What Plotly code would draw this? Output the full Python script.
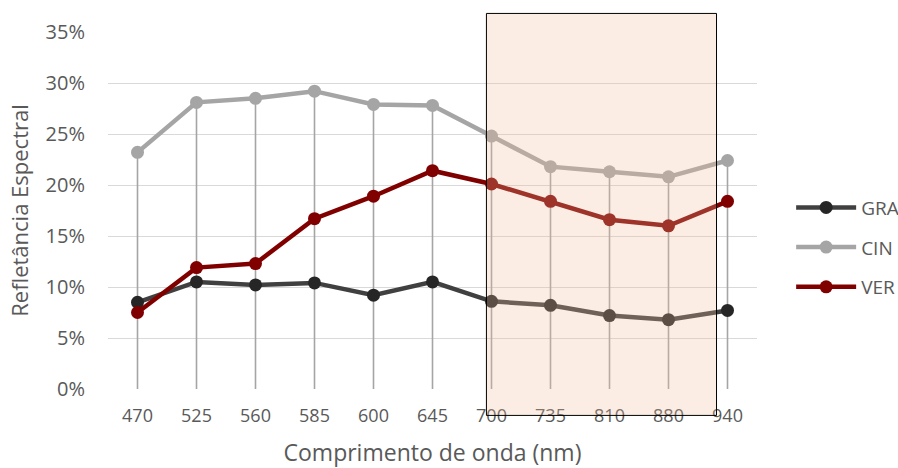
import plotly.graph_objects as go

categories = ["470", "525", "560", "585", "600", "645", "700", "735", "810", "880", "940"]
gra = [8.5, 10.5, 10.2, 10.4, 9.2, 10.5, 8.6, 8.2, 7.2, 6.8, 7.7]
cin = [23.2, 28.1, 28.5, 29.2, 27.9, 27.8, 24.8, 21.8, 21.3, 20.8, 22.4]
ver = [7.5, 11.9, 12.3, 16.7, 18.9, 21.4, 20.1, 18.4, 16.6, 16.0, 18.4]
y_ticks = [0, 5, 10, 15, 20, 25, 30, 35]
y_tick_labels = [f"{v}%" for v in y_ticks]

FONT = "Open Sans"
TXT = "#595959"

fig = go.Figure()

# drop lines (from highest point down to the axis)
dx, dy = [], []
for i, c in enumerate(categories):
    top = max(gra[i], cin[i], ver[i])
    dx += [c, c, None]
    dy += [0, top, None]
fig.add_trace(go.Scatter(x=dx, y=dy, mode="lines", line=dict(color="#a5a5a5", width=1.6),
                         hoverinfo="skip", showlegend=False))

series = [
    ("GRA", gra, "#404040", "#262626"),
    ("CIN", cin, "#a5a5a5", "#a5a5a5"),
    ("VER", ver, "#800000", "#800000"),
]
for name, vals, lc, mc in series:
    fig.add_trace(go.Scatter(
        x=categories, y=vals, name=name, mode="lines+markers",
        line=dict(color=lc, width=4.5),
        marker=dict(color=mc, size=13),
        legendgroup=name,
    ))

# highlighted region
fig.add_shape(type="rect", xref="x", yref="paper",
              x0=5.914, x1=9.814, y0=-0.074, y1=1.052,
              fillcolor="rgba(242,188,155,0.27)", line=dict(color="black", width=1),
              layer="above")

fig.update_layout(
    width=898, height=468,
    margin=dict(l=108, r=141, t=32, b=79),
    paper_bgcolor="white", plot_bgcolor="white",
    font=dict(family=FONT, color=TXT),
    legend=dict(xref="container", yref="container", x=0.881, xanchor="left",
                y=0.471, yanchor="middle",
                font=dict(size=19, color=TXT, family=FONT),
                tracegroupgap=12, itemwidth=60, bgcolor="rgba(0,0,0,0)"),
    xaxis=dict(type="category", categoryorder="array", categoryarray=categories,
               range=[-0.5, 10.5], showgrid=False, showline=False, zeroline=False,
               automargin=False,
               ticks="outside", ticklen=10, tickcolor="rgba(0,0,0,0)",
               tickfont=dict(size=18, color=TXT, family=FONT),
               title=dict(text="Comprimento de onda (nm)", font=dict(size=23, color=TXT, family=FONT),
                          standoff=23)),
    yaxis=dict(range=[0, 35], tickvals=y_ticks, ticktext=y_tick_labels,
               showgrid=True, gridcolor="#d9d9d9", gridwidth=1.3,
               zeroline=False, showline=False, automargin=False,
               ticks="outside", ticklen=18, tickcolor="rgba(0,0,0,0)",
               tickfont=dict(size=20, color=TXT, family=FONT),
               title=dict(text="Refletância Espectral", font=dict(size=22, color=TXT, family=FONT),
                          standoff=10)),
)

fig.write_html("out.html", config={"displayModeBar": False},
               post_script="document.body.style.margin='0';document.body.style.padding='0';")
